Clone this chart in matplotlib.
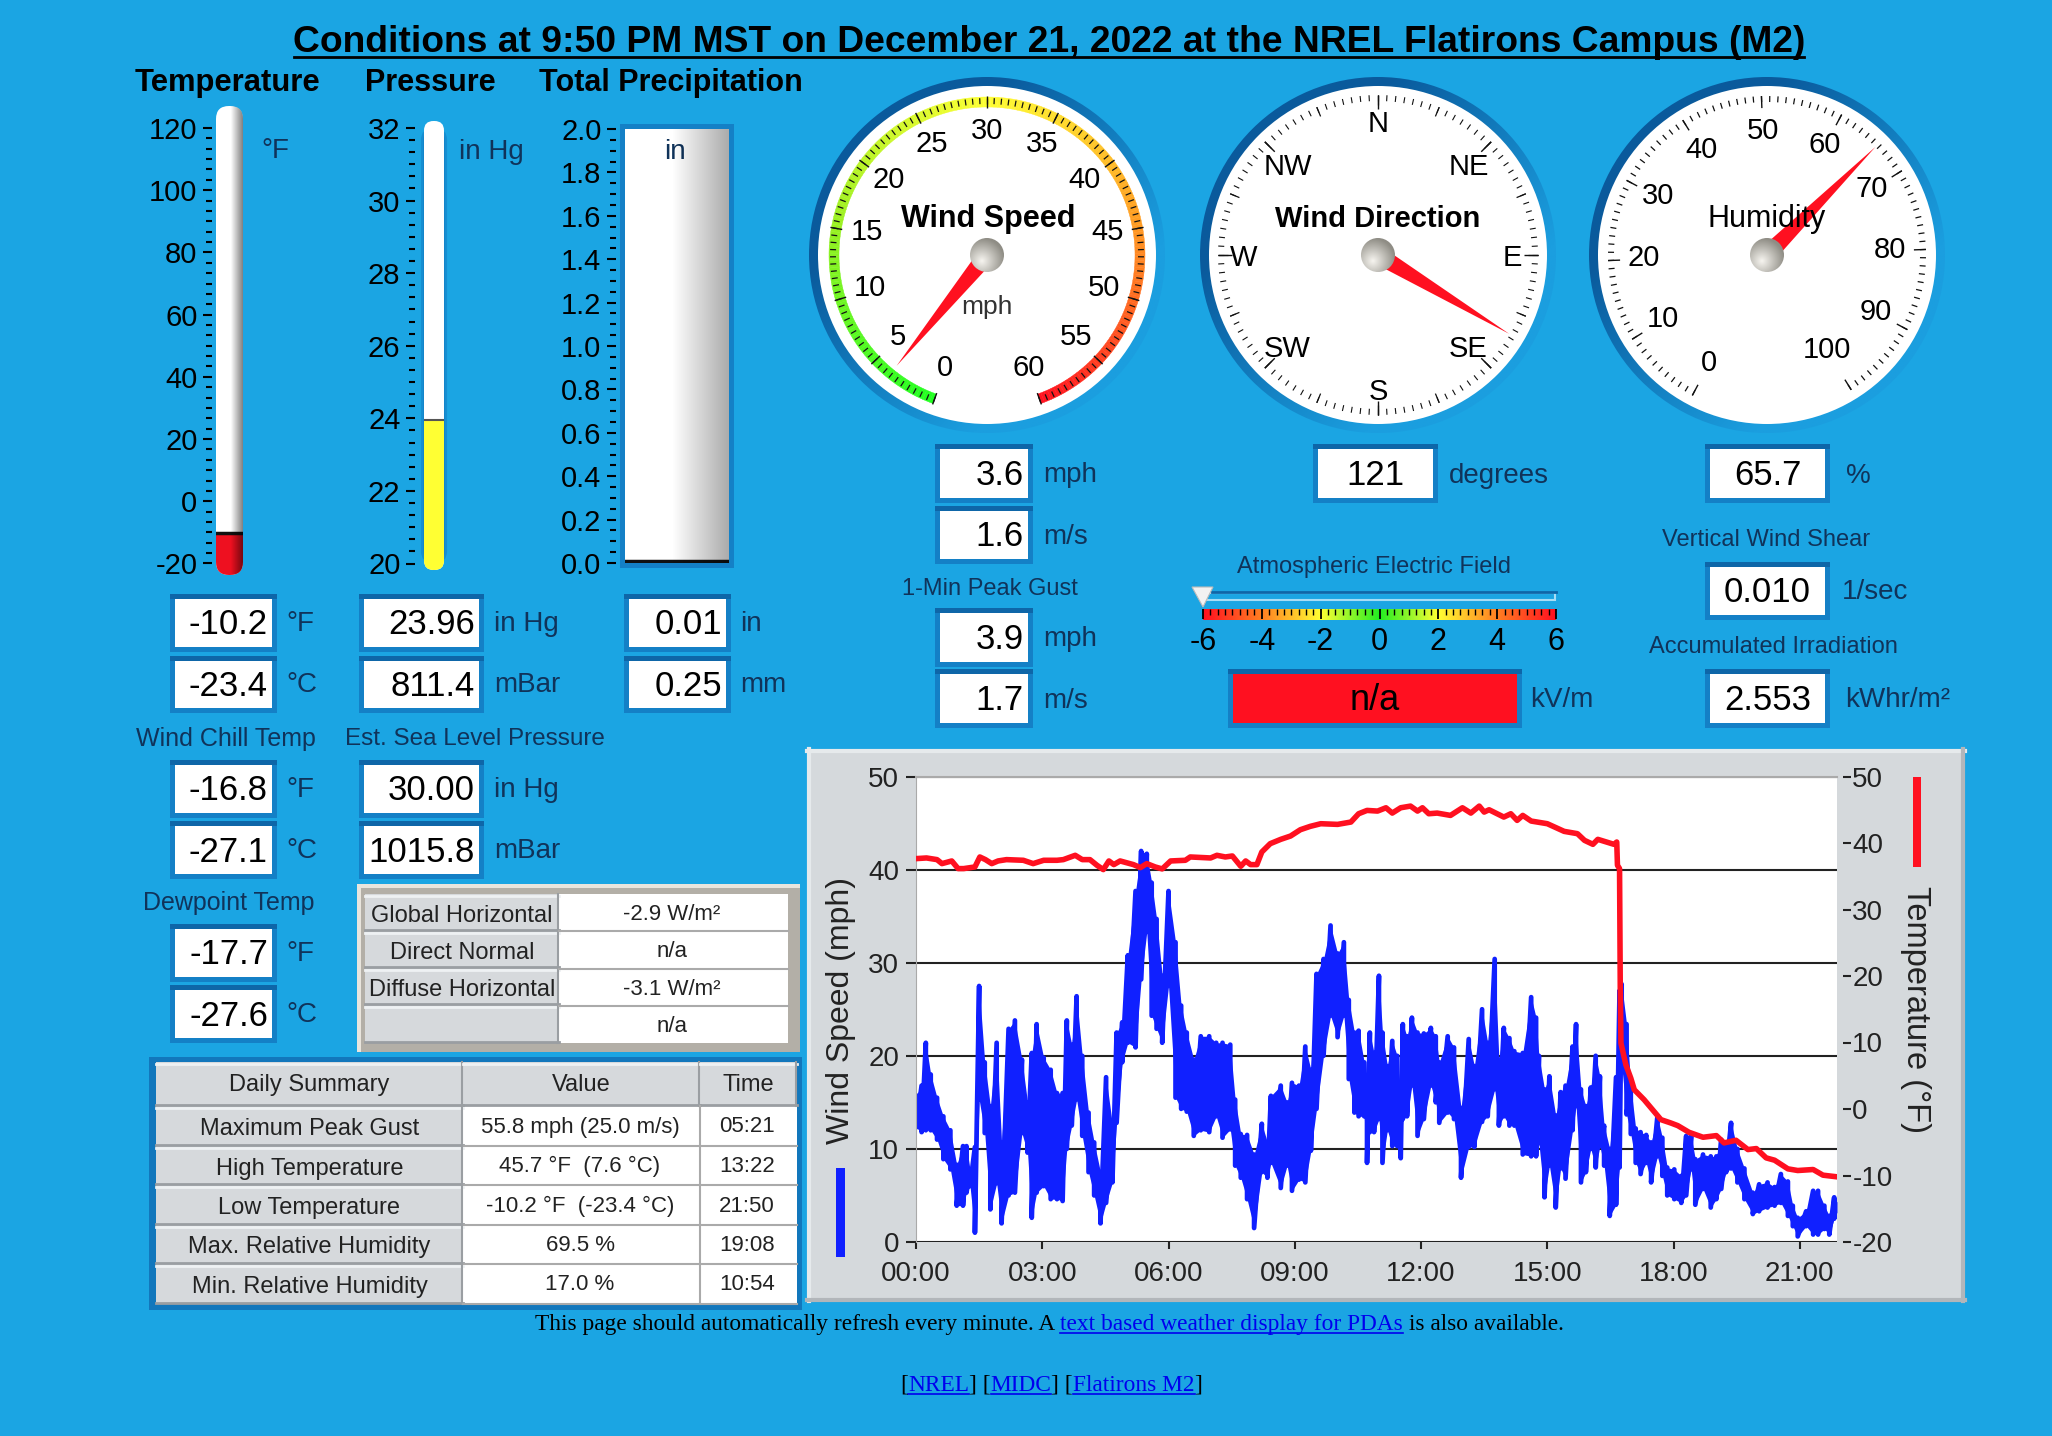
import numpy as np
import matplotlib
matplotlib.use('Agg')
import matplotlib.pyplot as plt
from matplotlib.patches import Rectangle, Circle, Wedge, FancyBboxPatch, Polygon
from matplotlib.collections import LineCollection
from matplotlib.colors import LinearSegmentedColormap, to_rgb

plt.rcParams['font.family'] = ['Liberation Sans', 'DejaVu Sans']
plt.rcParams['axes.unicode_minus'] = False

W, H = 2052, 1436
BG = '#1BA5E3'
DARK = '#10335A'
BEVEL = '#1480C6'

# wind speed, upper and lower edge of the band per time
wind_minute = [0, 8, 14, 21, 30, 39, 49, 58, 67, 72, 77, 84, 90, 98, 106, 115, 122, 132, 141, 151,
               159, 165, 172, 182, 192, 201, 209, 215, 222, 229, 237, 246, 254, 263, 271, 280, 286, 294, 302, 313,
               321, 329, 336, 343, 351, 360, 370, 378, 386, 396, 406, 418, 428, 437, 448, 455, 463, 472, 482, 493,
               501, 506, 520, 529, 536, 546, 555, 563, 571, 581, 591, 601, 610, 617, 625, 631, 639, 643, 647, 653,
               660, 665, 672, 679, 686, 691, 694, 700, 707, 715, 724, 734, 741, 746, 758, 767, 777, 788, 796, 807,
               815, 825, 831, 838, 846, 853, 865, 877, 884, 888, 896, 903, 912, 919, 926, 936, 941, 948, 955, 962,
               969, 975, 981, 989, 998, 1003, 1006, 1013, 1019, 1026, 1033, 1041, 1048, 1057, 1064, 1071, 1081, 1091, 1098, 1105,
               1111, 1122, 1133, 1141, 1148, 1155, 1162, 1171, 1181, 1193, 1202, 1214, 1224, 1233, 1243, 1250, 1257, 1269, 1279, 1286,
               1295, 1302, 1309, 1313]
wind_top = [15.7, 16.8, 21.4, 18, 15.5, 13.5, 12, 8.3, 10.3, 10.3, 7.8, 10.2, 27.5, 19.3, 14.6, 21.4, 10.7, 22.9, 23.8, 19.6,
            15, 20.3, 23.4, 19.8, 18.5, 16, 16, 23.8, 21.2, 26.4, 20, 13.9, 10.7, 7.5, 17.7, 12.6, 22.5, 23.6, 30.8, 37.7,
            42, 41.7, 38.6, 34.7, 28.6, 37.7, 32.2, 25.4, 22.5, 19.6, 22.1, 22.1, 21.4, 21.4, 21.2, 15.3, 11.6, 11.5, 9.4, 12.7,
            10.7, 15.7, 16.8, 15, 17.1, 16.8, 21, 18.5, 28.8, 30.4, 34, 31, 32.2, 26, 22.5, 22.7, 19.3, 14, 22.5, 20.3,
            28.6, 22.5, 18.9, 21.6, 20, 15, 23.4, 22.1, 24.1, 22.5, 22.4, 23, 22.1, 19.3, 22.1, 20.9, 14.4, 21.8, 18.9, 25,
            21.4, 30.4, 19.6, 23, 21.9, 20.5, 20.3, 26.3, 24.1, 20, 16.4, 17.8, 13.6, 16.1, 16.8, 21, 23.4, 16.4, 14.6, 16.6,
            20, 17.8, 12.5, 10, 17.7, 27, 27.7, 23.4, 16.8, 12.2, 11.8, 11.5, 10.7, 13.5, 11.2, 8, 7.8, 7.1, 11.4, 11.4,
            8.9, 9.4, 9.2, 9.2, 11, 10.7, 12.8, 10, 7.9, 5.3, 6.2, 6.4, 5.9, 7.3, 6.5, 3.9, 2.6, 3.3, 5.5, 5.5,
            3.9, 2.8, 4.8, 4.3]
wind_low = [12.3, 11.8, 12, 12, 11, 8.9, 7.8, 3.9, 3.9, 5.3, 6, 1.0, 15.3, 11.7, 3.5, 6.3, 2.0, 5.0, 5.3, 11.7,
            9.6, 2.6, 5.3, 6, 4.6, 4.6, 4.4, 10, 12.5, 15.3, 11.4, 7.5, 5, 2, 4.2, 6.4, 12.8, 19.3, 21.4, 20.9,
            28.2, 33.3, 24.3, 22.9, 21.4, 27.5, 15.5, 14.3, 14, 11.4, 12, 11.8, 13.5, 11.2, 12.1, 8.2, 6.9, 4.6, 1.5, 7.5,
            6.9, 8.5, 5.8, 8.2, 5.5, 6.7, 6.4, 9.8, 14.3, 20, 24.3, 22, 24.3, 17.5, 13.9, 13.5, 13.5, 8.5, 11.8, 11.8,
            13.2, 8.5, 12, 10.3, 10.3, 9, 13.2, 13.5, 16.8, 11.4, 13.2, 16.8, 15, 12.8, 13.9, 13.2, 6.9, 10.2, 10.2, 12.9,
            13.5, 16.4, 12.5, 13.5, 12.5, 12.5, 9.4, 9.2, 9.2, 10.6, 4.8, 8.2, 3.7, 7.9, 6.8, 12, 14.6, 6.4, 7.5, 10,
            8, 10.3, 8.2, 2.8, 4, 8, 19, 13.7, 11.6, 8.5, 7.3, 8.5, 6.4, 9.2, 7.1, 5, 4.6, 4.2, 5, 7.8,
            4, 5.7, 3.7, 4.6, 5.7, 7.5, 7.9, 6.4, 4.6, 3, 3.3, 3.7, 3.9, 4.2, 2.8, 1.7, 0.6, 1.7, 0.8, 0.8,
            1.4, 0.8, 2.5, 3.2]

temp_minute = [0, 15, 30, 37, 51, 60, 68, 84, 91, 99, 108, 117, 129, 153, 167, 182, 201, 210, 227, 237,
               248, 258, 267, 275, 282, 291, 310, 320, 329, 341, 351, 363, 384, 391, 420, 429, 441, 451, 463, 470,
               477, 486, 493, 505, 520, 534, 548, 562, 577, 601, 620, 631, 643, 658, 670, 679, 691, 705, 715, 722,
               731, 743, 762, 779, 791, 803, 810, 817, 838, 848, 857, 865, 877, 900, 924, 943, 953, 965, 972, 995,
               999, 1000, 1003, 1004, 1005, 1012, 1019, 1024, 1038, 1052, 1062, 1076, 1086, 1102, 1122, 1141, 1152, 1169, 1186, 1198,
               1212, 1224, 1243, 1257, 1279, 1293, 1313]
temp_f = [37.65, 37.75, 37.5, 36.9, 37.3, 36.15, 36.15, 36.4, 37.9, 37.5, 36.9, 37.3, 37.5, 37.4, 36.9, 37.4, 37.4, 37.5, 38.15, 37.5,
          37.5, 36.65, 36, 37.3, 36.75, 37.3, 36.75, 36.3, 36.9, 36.4, 36.1, 37.3, 37.4, 37.9, 37.75, 38.15, 37.9, 38.05, 36.5, 37.3,
          36.75, 36.75, 38.65, 39.9, 40.55, 41.05, 42, 42.5, 42.9, 42.8, 43.15, 44.4, 44.9, 44.8, 45.3, 44.5, 45.3, 45.55, 44.8, 45.3,
          44.4, 44.5, 44.15, 45.3, 44.5, 45.55, 44.65, 45, 43.9, 44.4, 43.4, 44.15, 43.3, 42.9, 41.75, 41.4, 40.4, 39.8, 40.55, 39.8,
          40.15, 36.65, 36.15, 18.4, 9.9, 6.65, 4.65, 2.9, 1.4, -0.35, -1.6, -2.1, -2.5, -3.5, -4.25, -4, -5.1, -4.7, -6.1, -5.95,
          -7.35, -7.7, -9, -9.25, -9.1, -9.95, -10.2]

time_ticks = [0, 180, 360, 540, 720, 900, 1080, 1260]
time_labels = ['00:00', '03:00', '06:00', '09:00', '12:00', '15:00', '18:00', '21:00']
wind_ticks = [0, 10, 20, 30, 40, 50]
temp_ticks = [-20, -10, 0, 10, 20, 30, 40, 50]

temp_scale = [-20, 0, 20, 40, 60, 80, 100, 120]
press_scale = [20, 22, 24, 26, 28, 30, 32]
precip_scale = [0.0, 0.2, 0.4, 0.6, 0.8, 1.0, 1.2, 1.4, 1.6, 1.8, 2.0]
temp_now = -10.2
press_now = 23.96
precip_now = 0.01

speed_labels = [0, 5, 10, 15, 20, 25, 30, 35, 40, 45, 50, 55, 60]
speed_now = 3.6
dir_names = ['N', 'NE', 'E', 'SE', 'S', 'SW', 'W', 'NW']
dir_angles = [0, 45, 90, 135, 180, 225, 270, 315]
dir_now = 121
hum_labels = [0, 10, 20, 30, 40, 50, 60, 70, 80, 90, 100]
hum_now = 65.7
field_ticks = [-6, -4, -2, 0, 2, 4, 6]
field_pointer = -6

irr_names = ['Global Horizontal', 'Direct Normal', 'Diffuse Horizontal', '']
irr_values = ['-2.9 W/m²', 'n/a', '-3.1 W/m²', 'n/a']
summary_head = ['Daily Summary', 'Value', 'Time']
summary_names = ['Maximum Peak Gust', 'High Temperature', 'Low Temperature',
                 'Max. Relative Humidity', 'Min. Relative Humidity']
summary_values = ['55.8 mph (25.0 m/s)', '45.7 °F  (7.6 °C)', '-10.2 °F  (-23.4 °C)', '69.5 %', '17.0 %']
summary_times = ['05:21', '13:22', '21:50', '19:08', '10:54']

fig = plt.figure(figsize=(W / 100, H / 100), dpi=100, facecolor=BG)
bg = fig.add_axes([0, 0, 1, 1])
bg.set_xlim(0, W)
bg.set_ylim(H, 0)
bg.axis('off')


def axes_px(x0, y0, x1, y1):
    return fig.add_axes([x0 / W, 1 - y1 / H, (x1 - x0) / W, (y1 - y0) / H])


def put(x, y, s, size=17, ha='center', color='black', **kw):
    return bg.text(x, y, s, fontsize=size, ha=ha, va='center', color=color, **kw)


def box(x0, y0, x1, y1, text, tx=None, fc='white', size=25):
    bg.add_patch(Rectangle((x0 - 5, y0 - 5), x1 - x0 + 10, y1 - y0 + 10, fc=BEVEL, ec='none'))
    bg.add_patch(Rectangle((x0 - 5, y0 - 5), x1 - x0 + 10, 5, fc='#0E66A8', ec='none'))
    bg.add_patch(Rectangle((x0, y0), x1 - x0, y1 - y0, fc=fc, ec='none'))
    if tx is None:
        put((x0 + x1) / 2, (y0 + y1) / 2 + 2, text, size)
    else:
        put(tx, (y0 + y1) / 2 + 2, text, size, ha='right')


def button(x0, y0, x1, y1, text='', dy=2):
    bg.add_patch(Rectangle((x0, y0), x1 - x0, y1 - y0, fc='#D6D9DC', ec='none'))
    bg.plot([x0, x1], [y0 + 1.5, y0 + 1.5], color='#EEF1F3', lw=2)
    bg.plot([x0, x1], [y1 - 1.5, y1 - 1.5], color='#9A9EA2', lw=2)
    bg.plot([x1 - 1, x1 - 1], [y0, y1], color='#9A9EA2', lw=1.5)
    put((x0 + x1) / 2, (y0 + y1) / 2 + dy, text, 17, color='#222222')


def scale_column(rect, y_hi, y_lo, ticks, fmt, nminor, tick_x):
    # axes covers the whole tube, limits set so the scale lands on the tick rows
    ax = axes_px(*rect)
    ax.patch.set_visible(False)
    for s in ax.spines.values():
        s.set_visible(False)
    ax.spines['left'].set_position(('outward', (rect[0] - tick_x) * 0.72))
    v_lo, v_hi = ticks[0], ticks[-1]
    k = (v_hi - v_lo) / (y_lo - y_hi)
    ax.set_xlim(0, 1)
    ax.set_ylim(v_lo - (rect[3] - y_lo) * k, v_hi + (y_hi - rect[1]) * k)
    ax.set_xticks([])
    ax.set_yticks(ticks)
    ax.set_yticklabels([fmt.format(t) for t in ticks], fontsize=21)
    minor = np.linspace(v_lo, v_hi, (len(ticks) - 1) * nminor + 1)
    ax.set_yticks(minor, minor=True)
    ax.tick_params(axis='y', which='major', length=6.5, width=1.5, pad=4, colors='black')
    ax.tick_params(axis='y', which='minor', length=4, width=1.5)
    return ax


def shade(ax, start, strength, clip=None):
    ramp = np.clip((np.linspace(0, 1, 128) - start) / (1 - start), 0, 1) * strength
    rgba = np.zeros((1, 128, 4))
    rgba[0, :, 3] = ramp
    lims = ax.get_ylim()
    im = ax.imshow(rgba, extent=(0, 1, lims[0], lims[1]), aspect='auto', zorder=4)
    ax.set_ylim(lims)
    ax.set_xlim(0, 1)
    if clip is not None:
        im.set_clip_path(clip)


def tube(x0, y0, x1, y1):
    rad = (x1 - x0) / 2 - 0.5
    p = FancyBboxPatch((x0 + rad, y0 + rad), x1 - x0 - 2 * rad, y1 - y0 - 2 * rad,
                       boxstyle='round,pad=%f,rounding_size=%f' % (rad, rad), fc='white', ec='none')
    bg.add_patch(p)
    return p


# headers and title
t = put(1049, 43, 'Conditions at 9:50 PM MST on December 21, 2022 at the NREL Flatirons Campus (M2)', 26.8, weight='bold')
bg.plot([294, 1804], [57, 57], color='black', lw=2)
put(227, 83, 'Temperature', 22.3, weight='bold')
put(430, 83, 'Pressure', 22, weight='bold')
put(671, 83, 'Total Precipitation', 22, weight='bold')

# thermometer
rect = (216, 106, 243, 575)
clip = tube(*rect)
ax = scale_column(rect, 128, 563.5, temp_scale, '{:d}', 6, 212)
for b in ax.bar(0.5, temp_now - ax.get_ylim()[0], bottom=ax.get_ylim()[0], width=1, color='#EE1020'):
    b.set_clip_path(clip)
ax.axhline(temp_now, color='#111111', lw=2.5).set_clip_path(clip)
shade(ax, 0.55, 0.5, clip)
put(275, 151, '°F', 20, color=DARK)

# pressure tube
rect = (424, 121, 444, 570)
bg.add_patch(FancyBboxPatch((423, 130), 22, 431, boxstyle='round,pad=0,rounding_size=10',
                            fc=BEVEL, ec=BEVEL, lw=3, alpha=0.6))
clip = tube(*rect)
ax = scale_column(rect, 128, 563.5, press_scale, '{:d}', 6, 415)
for b in ax.bar(0.5, press_now - ax.get_ylim()[0], bottom=ax.get_ylim()[0], width=1, color='#FFFF33'):
    b.set_clip_path(clip)
ax.axhline(press_now, color='#555555', lw=1.5).set_clip_path(clip)
put(459, 152, 'in Hg', 20, ha='left', color=DARK)

# precipitation bin
rect = (625, 129, 729, 563)
bg.add_patch(Rectangle((620, 124), 114, 444, fc=BEVEL, ec='none'))
bg.add_patch(Rectangle((625, 129), 104, 434, fc='white', ec='none'))
ax = scale_column(rect, 128, 563.5, precip_scale, '{:.1f}', 4, 616)
ax.bar(0.5, precip_now, width=1, color='#111111')
ax.axhline(precip_now, color='#111111', lw=2.5)
shade(ax, 0.45, 0.33)
put(675, 152, 'in', 20, color=DARK)

# left value boxes
for y0, y1, s, u in [(599, 647, '-10.2', '°F'), (661, 708, '-23.4', '°C'), (765, 813, '-16.8', '°F'),
                     (826, 874, '-27.1', '°C'), (929, 977, '-17.7', '°F'), (990, 1038, '-27.6', '°C')]:
    box(175, y0, 272, y1, s, tx=268)
    put(286, (y0 + y1) / 2 + 1, u, 20, ha='left', color=DARK)
for y0, y1, s, u in [(599, 647, '23.96', 'in Hg'), (661, 708, '811.4', 'mBar'),
                     (765, 813, '30.00', 'in Hg'), (826, 874, '1015.8', 'mBar')]:
    box(364, y0, 479, y1, s, tx=475)
    put(494, (y0 + y1) / 2 + 1, u, 20, ha='left', color=DARK)
for y0, y1, s, u in [(599, 647, '0.01', 'in'), (661, 708, '0.25', 'mm')]:
    box(629, y0, 726, y1, s, tx=722)
    put(740, (y0 + y1) / 2 + 1, u, 20, ha='left', color=DARK)
put(226, 739, 'Wind Chill Temp', 18, color=DARK)
put(475, 739, 'Est. Sea Level Pressure', 17.5, color=DARK)
put(229, 903, 'Dewpoint Temp', 18, color=DARK)

# irradiance table
bg.add_patch(Rectangle((357, 884), 443, 168, fc='#B3AFA7', ec='none'))
bg.add_patch(Rectangle((357, 884), 443, 4, fc='#E9E5DD', ec='none'))
bg.add_patch(Rectangle((357, 884), 4, 168, fc='#E9E5DD', ec='none'))
bg.add_patch(Rectangle((365, 894), 423, 149, fc='white', ec='none'))
irr_rows = np.linspace(894, 1043, len(irr_names) + 1)
for i, (name, val) in enumerate(zip(irr_names, irr_values)):
    button(365, irr_rows[i], 559, irr_rows[i + 1], name, dy=3)
    put(672, (irr_rows[i] + irr_rows[i + 1]) / 2 + 2, val, 16, color='#222222')
    if i:
        bg.plot([559, 788], [irr_rows[i], irr_rows[i]], color='#AAAAAA', lw=1.5)

# daily summary table
bg.add_patch(Rectangle((149, 1057), 653, 253, fc='#1277BC', ec='none'))
bg.add_patch(Rectangle((156, 1062), 641, 242, fc='white', ec='none'))
sum_rows = [1062, 1106, 1146, 1185, 1225, 1264, 1304]
sum_cols = [156, 463, 700, 797]
for j, name in enumerate(summary_head):
    button(sum_cols[j], sum_rows[0], sum_cols[j + 1], sum_rows[1], name, dy=1)
for i, name in enumerate(summary_names):
    button(156, sum_rows[i + 1], 463, sum_rows[i + 2], name, dy=3)
    mid = (sum_rows[i + 1] + sum_rows[i + 2]) / 2
    put(580, mid + 1, summary_values[i], 16, color='#222222')
    put(747, mid + 1, summary_times[i], 16, color='#222222')
    bg.plot([463, 797], [sum_rows[i + 2], sum_rows[i + 2]], color='#AAAAAA', lw=1.5)
bg.plot([700, 700], [1106, 1304], color='#AAAAAA', lw=1.5)


def polar(angle, r):
    a = np.radians(angle)
    return r * np.sin(a), r * np.cos(a)


def gauge_axes(cx, cy):
    R = 185
    ax = axes_px(cx - R, cy - R, cx + R, cy + R)
    ax.patch.set_visible(False)
    ax.axis('off')
    gx, gy = np.meshgrid(np.linspace(-1, 1, 128), np.linspace(-1, 1, 128))
    g = np.clip((gx + gy) / 2 * 1.1 + 0.5, 0, 1)[..., None]
    col = np.array(to_rgb('#0A5A9C')) * (1 - g) + np.array(to_rgb('#1B9EDF')) * g
    im = ax.imshow(col, extent=(-180, 180, -180, 180), origin='upper', zorder=1)
    ring = Circle((0, 0), 178, transform=ax.transData)
    im.set_clip_path(ring)
    ax.add_patch(Circle((0, 0), 169, fc='white', ec='none', zorder=2))
    ax.set_xlim(-R, R)
    ax.set_ylim(-R, R)
    return ax


def draw_ticks(ax, angles, r0, r1, lw):
    segs = [[polar(a, r0), polar(a, r1)] for a in angles]
    ax.add_collection(LineCollection(segs, colors='#111111', linewidths=lw, zorder=4))


def needle(ax, angle, tip):
    nx, ny = polar(angle + 90, 9)
    x, y = polar(angle, tip)
    ax.add_patch(Polygon([(nx, ny), (-nx, -ny), (x, y)], fc='#FF1020', ec='none', zorder=5))
    gx, gy = np.meshgrid(np.linspace(-1, 1, 64), np.linspace(-1, 1, 64))
    d = np.clip(np.hypot(gx + 0.3, gy + 0.35) / 1.35, 0, 1)[..., None]
    col = np.array(to_rgb('#F7F5F0')) * (1 - d) + np.array(to_rgb('#8F8D85')) * d
    im = ax.imshow(col, extent=(-17, 17, 17, -17), zorder=6)
    im.set_clip_path(Circle((0, 0), 17, transform=ax.transData))
    ax.set_xlim(-185, 185)
    ax.set_ylim(-185, 185)


# wind speed gauge
ax = gauge_axes(987, 255)
speed_angle = lambda v: 200 + np.asarray(v) * 320 / 60.0
ramp = LinearSegmentedColormap.from_list('speed', ['#22FF22', '#99F022', '#FFFF33', '#FF9922', '#FF1020'])
for v in np.arange(0, 60, 0.25):
    a0, a1 = speed_angle(v), speed_angle(v + 0.25)
    ax.add_patch(Wedge((0, 0), 158, 90 - a1, 90 - a0, width=10, fc=ramp(v / 60.0), ec=ramp(v / 60.0), lw=0.3, zorder=3))
draw_ticks(ax, speed_angle(np.arange(0, 60.01, 0.5)), 151, 157, 0.9)
draw_ticks(ax, speed_angle(np.array(speed_labels)), 147, 159, 1.0)
for v in speed_labels:
    x, y = polar(speed_angle(v), 122)
    ax.text(x, y + 2, str(v), fontsize=21, ha='center', va='center', zorder=7)
ax.text(1, 36, 'Wind Speed', fontsize=22, weight='bold', ha='center', va='center', zorder=7)
ax.text(0, -52, 'mph', fontsize=19, ha='center', va='center', color='#333333', zorder=7)
needle(ax, speed_angle(speed_now), 143)

# wind direction gauge
ax = gauge_axes(1378, 255)
draw_ticks(ax, np.arange(0, 360, 360 / 112), 154, 160, 0.8)
draw_ticks(ax, np.arange(0, 360, 22.5), 150, 160, 0.9)
draw_ticks(ax, np.arange(0, 360, 45), 146, 160, 1.0)
for name, ang in zip(dir_names, dir_angles):
    x, y = polar(ang, 128 if ang % 90 else 134)
    ax.text(x, y - 3, name, fontsize=21, ha='center', va='center', zorder=7)
needle(ax, dir_now, 153)
ax.text(0, 36, 'Wind Direction', fontsize=21, weight='bold', ha='center', va='center', zorder=7)

# humidity gauge
ax = gauge_axes(1767, 255)
hum_angle = lambda v: 208 + np.asarray(v) * 3.0
draw_ticks(ax, hum_angle(np.arange(0, 100.1, 1)), 153, 159, 0.9)
draw_ticks(ax, hum_angle(np.array(hum_labels)), 147, 159, 1.0)
for v in hum_labels:
    x, y = polar(hum_angle(v), 123 - (10 if v >= 100 else 0))
    ax.text(x, y + 1, str(v), fontsize=21, ha='center', va='center', zorder=7)
needle(ax, hum_angle(hum_now), 153)
ax.text(0, 36, 'Humidity', fontsize=22, ha='center', va='center', zorder=7)

# boxes under the gauges
for y0, y1, s, u in [(449, 498, '3.6', 'mph'), (511, 559, '1.6', 'm/s'),
                     (613, 662, '3.9', 'mph'), (674, 723, '1.7', 'm/s')]:
    box(940, y0, 1028, y1, s, tx=1024)
    put(1043, (y0 + y1) / 2 + 2, u, 20, ha='left', color=DARK)
put(990, 589, '1-Min Peak Gust', 17, color=DARK)
box(1318, 449, 1433, 498, '121')
put(1449, 476, 'degrees', 20, ha='left', color=DARK)
box(1710, 449, 1825, 498, '65.7')
put(1846, 476, '%', 20, ha='left', color=DARK)
put(1766, 540, 'Vertical Wind Shear', 17, color=DARK)
box(1710, 567, 1825, 615, '0.010')
put(1842, 592, '1/sec', 20, ha='left', color=DARK)
put(1773, 647, 'Accumulated Irradiation', 17, color=DARK)
box(1710, 674, 1825, 723, '2.553')
put(1845, 700, 'kWhr/m²', 20, ha='left', color=DARK)
put(1374, 567, 'Atmospheric Electric Field', 17, color=DARK)
box(1233, 674, 1517, 723, 'n/a', fc='#FF1020', size=26)
put(1530, 700, 'kV/m', 20, ha='left', color=DARK)

# electric field scale
bg.plot([1212, 1556], [592, 592], color='#0E66A8', lw=2)
bg.add_patch(Rectangle((1206, 593), 349, 7, fc=BG, ec='#A8DDF5', lw=1.5))
ax = axes_px(1203, 609, 1556, 620)
field_cmap = LinearSegmentedColormap.from_list('field', ['#FF1020', '#FF8022', '#FFFF33', '#22EE22', '#FFFF33', '#FF8022', '#FF1020'])
ax.imshow(np.linspace(-6, 6, 256)[None, :], extent=(-6, 6, 0, 1), aspect='auto', cmap=field_cmap)
ax.set_xlim(-6, 6)
ax.set_yticks([])
ax.set_xticks(field_ticks)
ax.set_xticks(np.arange(-6, 6.01, 0.25), minor=True)
ax.tick_params(axis='x', which='major', direction='in', top=True, bottom=False, length=7, width=1.3, labelsize=22, pad=5)
ax.tick_params(axis='x', which='minor', direction='in', top=True, bottom=False, length=4, width=1)
for s in ax.spines.values():
    s.set_visible(False)
px = np.interp(field_pointer, [-6, 6], [1203, 1556])
bg.add_patch(Polygon([(px - 11, 587), (px + 10, 587), (px, 607)], fc='#F2F2F2', ec='#BBBBBB', lw=0.8, zorder=3))

# chart panel
bg.add_patch(Rectangle((807, 749), 1158, 552, fc='#D5D9DC', ec='none'))
bg.plot([807, 1965], [751, 751], color='#E6EAEC', lw=3)
bg.plot([809, 809], [749, 1301], color='#E6EAEC', lw=3)
bg.plot([807, 1965], [1300, 1300], color='#B2B6BA', lw=3)
bg.plot([1963, 1963], [749, 1301], color='#B2B6BA', lw=3)
bg.add_patch(Rectangle((836, 1168), 9, 89, fc='#1020FF', ec='none'))
bg.add_patch(Rectangle((1913, 777), 8, 90, fc='#FF1020', ec='none'))
put(841, 1010, 'Wind Speed (mph)', 23, rotation=90, color='#222222')
put(1916, 1010, 'Temperature (°F)', 23.5, rotation=270, color='#222222')

ax = axes_px(916, 776.5, 1837, 1242)
ax.set_xlim(0, 1313)
ax.set_ylim(0, 50)
ax.set_facecolor('white')
ax.set_xticks(time_ticks)
ax.set_xticklabels(time_labels, fontsize=20, color='#222222')
ax.set_yticks(wind_ticks)
ax.set_yticklabels([str(v) for v in wind_ticks], fontsize=20, color='#222222')
ax.grid(axis='y', color='#222222', lw=1.5)
ax.set_axisbelow(True)
ax.spines['right'].set_visible(False)
ax.spines['bottom'].set_visible(False)
ax.spines['top'].set_color('#AAAAAA')
ax.spines['top'].set_linewidth(1.5)
ax.spines['left'].set_color('#AAAAAA')
ax.tick_params(axis='y', length=7, width=1.5, pad=5, color='#222222')
ax.tick_params(axis='x', length=5, width=1.5, pad=9, color='#222222')

wx = np.repeat(wind_minute, 2)
wy = np.column_stack([wind_top, wind_low]).ravel()
ax.fill_between(wind_minute, wind_low, wind_top, color='#1020FF', lw=0)
ax.plot(wx, wy, color='#1020FF', lw=3.4, solid_joinstyle='round')

ax2 = ax.twinx()
for s in ax2.spines.values():
    s.set_visible(False)
ax2.spines['right'].set_position(('outward', 4))
ax2.set_ylim(-20, 50)
ax2.set_yticks(temp_ticks)
ax2.set_yticklabels([str(v) for v in temp_ticks], fontsize=20, color='#222222')
ax2.tick_params(axis='y', length=6, width=1.5, pad=1, color='#222222')
ax2.plot(temp_minute, temp_f, color='#FF1020', lw=4)

# footer, pieces placed one after another from the measured text widths
fig.canvas.draw()
renderer = fig.canvas.get_renderer()
SERIF = ['Liberation Serif', 'DejaVu Serif']


def text_run(x, y, pieces, size=16.8):
    for s, link in pieces:
        bg.text(x, y, s, fontsize=size, family=SERIF, ha='left', va='baseline',
                color='#0000EE' if link else 'black')
        # a trailing space has no ink, so measure with a marker
        a = bg.text(0, 0, s + '|', fontsize=size, family=SERIF)
        b = bg.text(0, 0, '|', fontsize=size, family=SERIF)
        w = a.get_window_extent(renderer).width - b.get_window_extent(renderer).width
        a.remove()
        b.remove()
        if link:
            bg.plot([x, x + w], [y + 3, y + 3], color='#0000EE', lw=1.2)
        x += w


text_run(535, 1330, [('This page should automatically refresh every minute. A ', False),
                     ('text based weather display for PDAs', True), (' is also available.', False)])
text_run(900, 1391, [('[', False), ('NREL', True), ('] [', False), ('MIDC', True), ('] [', False),
                     ('Flatirons M2', True), (']', False)])
bg.set_xlim(0, W)
bg.set_ylim(H, 0)

fig.savefig('out.png', dpi=100, facecolor=BG)
